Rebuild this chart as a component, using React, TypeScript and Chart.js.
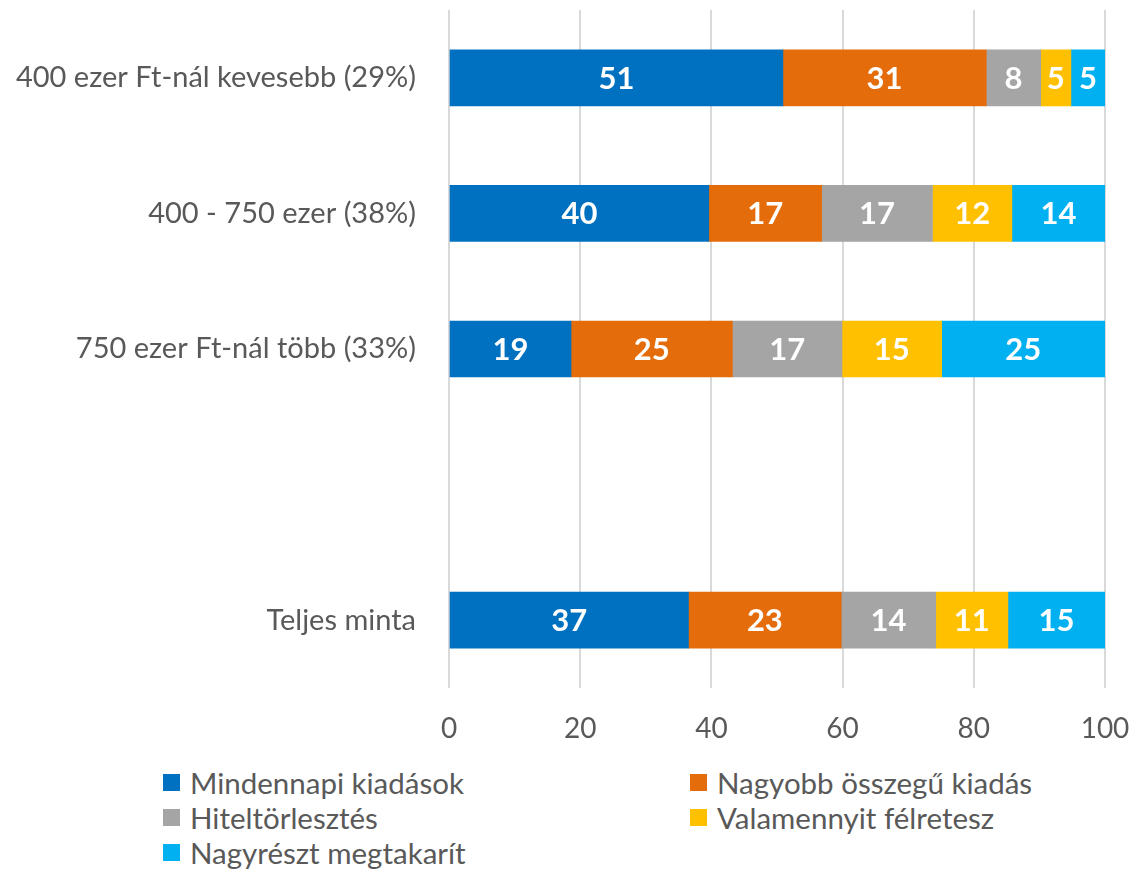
import React, { useEffect, useRef } from "react";
import { Chart, registerables } from "chart.js";

Chart.register(...registerables);

const categories = [
  "400 ezer Ft-nál kevesebb (29%)",
  "400 - 750 ezer (38%)",
  "750 ezer Ft-nál több (33%)",
  "",
  "Teljes minta",
];

const seriesNames = [
  "Mindennapi kiadások",
  "Nagyobb összegű kiadás",
  "Hiteltörlesztés",
  "Valamennyit félretesz",
  "Nagyrészt megtakarít",
];

const colors = ["#0070C0", "#E46C0A", "#A5A5A5", "#FFC000", "#00B0F0"];

const mindennapi = [50.9, 39.6, 18.6, null, 36.5];
const nagyobb = [31.0, 17.2, 24.6, null, 23.3];
const hitel = [8.3, 16.9, 16.7, null, 14.4];
const felretesz = [4.6, 12.1, 15.2, null, 11.0];
const megtakarit = [5.2, 14.2, 24.9, null, 14.8];

const seriesValues = [mindennapi, nagyobb, hitel, felretesz, megtakarit];

const xTicks = [0, 20, 40, 60, 80, 100];

const FONT = "Lato, 'Open Sans', sans-serif";
const TEXT = "#595959";

const labelPlugin = {
  id: "barLabels",
  afterDatasetsDraw(chart: any) {
    const ctx = chart.ctx;
    ctx.save();
    ctx.font = `bold 31px ${FONT}`;
    ctx.fillStyle = "#ffffff";
    ctx.textAlign = "center";
    ctx.textBaseline = "middle";
    chart.data.datasets.forEach((ds: any, di: number) => {
      const meta = chart.getDatasetMeta(di);
      meta.data.forEach((el: any, i: number) => {
        const v = ds.data[i];
        if (v == null) return;
        const cx = (el.x + el.base) / 2;
        ctx.fillText(String(Math.round(v)), cx, el.y + 1);
      });
    });
    ctx.restore();
  },
};

export default function App() {
  const ref = useRef<HTMLCanvasElement | null>(null);

  useEffect(() => {
    document.body.style.margin = "0";
    const canvas = ref.current!;
    const chart = new Chart(canvas, {
      type: "bar",
      data: {
        labels: categories,
        datasets: seriesNames.map((name, i) => ({
          label: name,
          data: seriesValues[i] as any,
          backgroundColor: colors[i],
          borderWidth: 0,
          barThickness: 56,
        })),
      },
      options: {
        indexAxis: "y",
        animation: false,
        responsive: false,
        maintainAspectRatio: false,
        layout: { padding: { top: 10, right: 30, left: 0, bottom: 0 } },
        plugins: {
          legend: { display: false },
          tooltip: { enabled: false },
        },
        scales: {
          x: {
            stacked: true,
            min: 0,
            max: 100,
            afterBuildTicks: (scale: any) => {
              scale.ticks = xTicks.map((v) => ({ value: v }));
            },
            grid: { color: "#D9D9D9", lineWidth: 2, drawTicks: false },
            border: { display: false },
            ticks: {
              color: TEXT,
              font: { family: FONT, size: 28 },
              padding: 24,
              maxRotation: 0,
            },
            afterFit: (scale: any) => {
              scale.height = 72;
              scale.paddingLeft = 0;
              scale.paddingRight = 0;
              scale.paddingTop = 0;
              scale.paddingBottom = 0;
            },
          },
          y: {
            stacked: true,
            grid: { display: false, drawTicks: false },
            border: { display: false },
            ticks: {
              color: TEXT,
              font: { family: FONT, size: 29 },
              padding: 33,
            },
            afterFit: (scale: any) => {
              scale.width = 449;
              scale.paddingLeft = 0;
              scale.paddingRight = 0;
              scale.paddingTop = 0;
              scale.paddingBottom = 0;
            },
          },
        },
      },
      plugins: [labelPlugin],
    });
    return () => chart.destroy();
  }, []);

  const legendPos = [
    { left: 163, top: 782 },
    { left: 690, top: 782 },
    { left: 163, top: 817 },
    { left: 690, top: 817 },
    { left: 163, top: 852 },
  ];

  return (
    <div style={{ position: "relative", width: 1135, height: 871, overflow: "hidden", background: "#fff" }}>
      <canvas ref={ref} width={1135} height={760} style={{ position: "absolute", left: 0, top: 0 }} />
      {seriesNames.map((name, i) => (
        <div
          key={name}
          style={{
            position: "absolute",
            left: legendPos[i].left,
            top: legendPos[i].top - 18,
            height: 36,
            display: "flex",
            alignItems: "center",
            fontFamily: FONT,
            fontSize: 29.5,
            color: TEXT,
            whiteSpace: "nowrap",
          }}
        >
          <span style={{ display: "inline-block", width: 17, height: 17, background: colors[i], marginRight: 10 }} />
          {name}
        </div>
      ))}
    </div>
  );
}
